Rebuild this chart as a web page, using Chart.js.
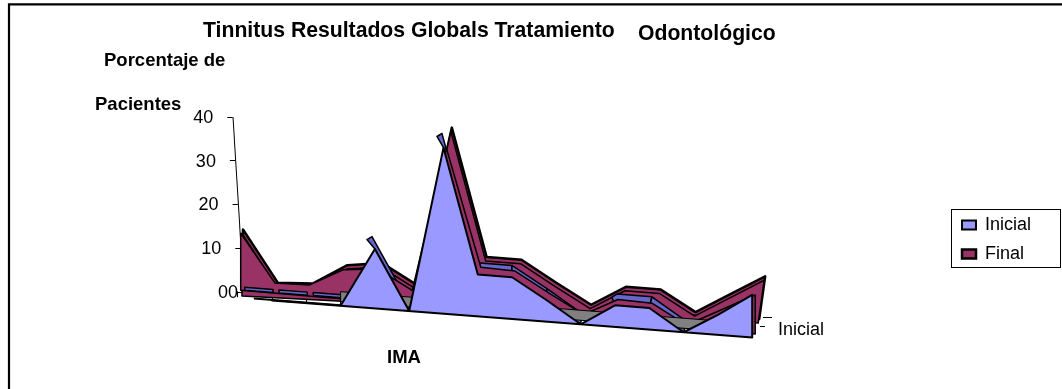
<!DOCTYPE html>
<html>
<head>
<meta charset="utf-8">
<title>Tinnitus Resultados Globals Tratamiento Odontológico</title>
<style>
  html, body { margin: 0; padding: 0; background: #fff; }
  canvas { display: block; }
</style>
<script src="https://cdn.jsdelivr.net/npm/chart.js@4"></script>
</head>
<body>
<canvas id="chart" width="1062" height="389"></canvas>
<script>
// Categories along the IMA axis
const categories = ['1','2','3','4','5','6','7','8','9','10','11','12','13','14','15','16'];
// Percentage of patients per category
const inicial = [null, 0, 0, 0, 11.8, 0, 33, 8.3, 8.3, 4.3, 0, 4.3, 4.3, 0, 4, 8.5];
const final_  = [13, 2.3, 2.5, 6.7, 7.5, 3.3, 36.4, 9.9, 9.7, 5.3, 1.1, 5.2, 5, 0.7, 4.8, 8.9];
// Floor levels: the grey floor band and the resting strips at the far left
const floorLevel = [null, null, null, 0, 0, 0, 0, 0, 0, 0, 0, 0, 0, 0, 0, 0];
const restLevel = [0, 0, 0, 0, null, null, null, null, null, null, null, null, null, null, null, null];
const yTicks = [0, 10, 20, 30, 40];

const INK = '#000000';
const BLUE = '#9999FF';
const BLUE_TOP = '#6666CC';
const WINE = '#993366';
const GREY = '#808080';
const FONT = '"Liberation Sans", Arial, sans-serif';

// Oblique planes of the 3-D view: a and e stretch and shift x, the floor line
// runs through (ax, ay) with the given slope, and s scales heights. tuck pulls
// the lower right corner of an area inwards, towards the vanishing point.
const planes = {
  inicialFront: { a: 1,     e: 0,     slope: .0774, ax: 254, ay: 299, s: 1.15 },
  inicialBack:  { a: 1.02,  e: -10.4, slope: .078,  ax: 270, ay: 289, s: 1.17 },
  finalFront:   { a: 1,     e: 3,     slope: .085,  ax: 250, ay: 291, s: 1 },
  finalMid:     { a: 1.015, e: .7,    slope: .052,  ax: 244, ay: 296, s: 1.1, tuck: 6 },
  finalBack:    { a: 1.015, e: 1.7,   slope: .052,  ax: 244, ay: 292, s: 1.1, tuck: 6 },
  floorFront:   { a: 1,     e: 0,     slope: .0774, ax: 254, ay: 295, s: 1 },
  floorBack:    { a: 1,     e: 0,     slope: .0774, ax: 254, ay: 285, s: 1 },
  restFront:    { a: 1,     e: 4,     slope: .0774, ax: 254, ay: 291, s: 1 },
  restBack:     { a: 1,     e: 4,     slope: .0774, ax: 254, ay: 288, s: 1 }
};

function project(plane, x, y, zeroY) {
  const sx = plane.a * x + plane.e;
  const floorY = plane.ay + plane.slope * (sx - plane.ax);
  return [sx, floorY + plane.s * (y - zeroY)];
}

function tracePolygon(ctx, corners) {
  ctx.beginPath();
  corners.forEach((c, i) => i ? ctx.lineTo(c[0], c[1]) : ctx.moveTo(c[0], c[1]));
  ctx.closePath();
  ctx.fill();
  ctx.stroke();
}

// Area controller that projects the points laid out by the scales onto a plane.
class RibbonController extends Chart.LineController {
  draw() {
    const ds = this.getDataset();
    const meta = this.getMeta();
    const ctx = this.chart.ctx;
    const zeroY = meta.yScale.getPixelForValue(0);
    const pts = meta.data.filter(p => !p.skip);
    const on = (plane, p, y) => project(plane, p.x, y === undefined ? p.y : y, zeroY);

    ctx.save();
    ctx.fillStyle = ds.backgroundColor;
    ctx.strokeStyle = ds.borderColor;
    ctx.lineWidth = ds.borderWidth;
    ctx.lineJoin = 'round';

    const first = pts[0], last = pts[pts.length - 1];
    if (ds.mode === 'top') {
      // Upper surface of the ribbon, only where it faces the viewer
      for (let i = 0; i < pts.length - 1; i++) {
        const p = pts[i], q = pts[i + 1];
        if (q.y < p.y || (p.y === zeroY && q.y === zeroY)) continue;
        const corners = [on(ds.back, p), on(ds.back, q), on(ds.plane, q), on(ds.plane, p)];
        // A peak shows a short flat cap on its far side
        if (i > 0 && pts[i - 1].y > p.y) {
          const tip = corners[0];
          corners.unshift([tip[0] - 5, tip[1] + 3]);
        }
        tracePolygon(ctx, corners);
      }
    } else if (ds.mode === 'rest') {
      // Separate thin strips, one per category step
      const gap = 3;
      for (let i = 0; i < pts.length - 1; i++) {
        const p = { x: pts[i].x + gap, y: pts[i].y }, q = { x: pts[i + 1].x - gap, y: pts[i + 1].y };
        tracePolygon(ctx, [on(ds.back, p), on(ds.back, q), on(ds.plane, q), on(ds.plane, p)]);
      }
    } else if (ds.mode === 'floor') {
      tracePolygon(ctx, [on(ds.back, first), on(ds.back, last), on(ds.plane, last), on(ds.plane, first)]);
    } else {
      const end = on(ds.plane, last, zeroY);
      end[0] -= ds.plane.tuck || 0;
      tracePolygon(ctx, pts.map(p => on(ds.plane, p)).concat([end, on(ds.plane, first, zeroY)]));
    }
    ctx.restore();
  }
}
RibbonController.id = 'ribbon';
RibbonController.defaults = Chart.LineController.defaults;
Chart.register(RibbonController);

// Scales whose ticks and axis line are sheared to follow the oblique view.
const AXIS_SHEAR = .0618;
const AXIS_SHIFT = 6.3;
const FLOOR_SLOPE = .0774;

class SlantedLinear extends Chart.LinearScale {
  draw(area) {
    const ctx = this.ctx;
    const zeroY = this.getPixelForValue(0);
    ctx.save();
    ctx.transform(1, 0, AXIS_SHEAR, 1, AXIS_SHIFT - AXIS_SHEAR * zeroY, 0);
    this.drawGrid(area);
    this.drawBorder();
    ctx.restore();
    this.drawLabels(area);
  }
  _computeLabelItems(area) {
    const zeroY = this.getPixelForValue(0);
    const items = super._computeLabelItems(area);
    items.forEach(item => {
      const t = item.options.translation;
      const extra = item.label === '00' ? 14 : 0;
      item.options.translation = [t[0] + AXIS_SHIFT + AXIS_SHEAR * (t[1] - zeroY) + extra, t[1] + 1];
    });
    return items;
  }
}
SlantedLinear.id = 'slantedLinear';
SlantedLinear.defaults = Chart.LinearScale.defaults;

class SlantedCategory extends Chart.CategoryScale {
  draw(area) {
    const ctx = this.ctx;
    ctx.save();
    ctx.transform(1, FLOOR_SLOPE, 0, 1, 0, 2 - FLOOR_SLOPE * 273);
    this.drawGrid(area);
    // Front edge of the floor, up to where the first area takes over
    const edge = this.top + 6;
    ctx.strokeStyle = INK;
    ctx.lineWidth = 2;
    ctx.beginPath();
    ctx.moveTo(this.getPixelForValue(0.47), edge);
    ctx.lineTo(this.getPixelForValue(3), edge);
    ctx.stroke();
    ctx.restore();
  }
}
SlantedCategory.id = 'slantedCategory';
SlantedCategory.defaults = Chart.CategoryScale.defaults;
Chart.register(SlantedLinear, SlantedCategory);

// Headings, axis captions and the depth axis, which have no native slot.
const captions = [
  { text: 'Tinnitus Resultados Globals Tratamiento', x: 203, y: 31, size: 21.2, bold: true },
  { text: 'Odontológico', x: 638, y: 34, size: 21.2, bold: true },
  { text: 'Porcentaje de', x: 104, y: 61, size: 18.5, bold: true },
  { text: 'Pacientes', x: 95, y: 105, size: 18.5, bold: true },
  { text: 'IMA', x: 387, y: 358, size: 18.5, bold: true },
  { text: 'Inicial', x: 778, y: 330, size: 18, bold: false }
];

const decorations = {
  id: 'decorations',
  beforeLayout(chart) {
    // The legend sits in its own framed box and takes no room from the plot.
    const legend = chart.legend;
    if (legend && !legend.$floating) {
      const fit = legend.fit;
      legend.fit = function () { fit.call(this); this.width = 0; };
      legend.$floating = true;
    }
  },
  beforeDraw(chart) {
    const ctx = chart.ctx;
    const legend = chart.legend;
    legend.left = 951; legend.right = 1061; legend.top = 132; legend.bottom = 347;

    ctx.save();
    ctx.strokeStyle = INK;
    ctx.lineWidth = 2.2;
    ctx.beginPath();
    ctx.moveTo(9, 389);
    ctx.lineTo(9, 4.4);
    ctx.lineTo(1062, 4.4);
    ctx.stroke();
    ctx.lineWidth = 1;
    ctx.strokeRect(951.5, 209.5, 109, 58);
    ctx.beginPath();
    ctx.moveTo(763, 317.5); ctx.lineTo(772, 317.5);
    ctx.moveTo(760, 326.5); ctx.lineTo(765, 326.5);
    ctx.stroke();
    ctx.restore();
  },
  afterDraw(chart) {
    const ctx = chart.ctx;
    ctx.save();
    ctx.fillStyle = INK;
    ctx.textBaseline = 'middle';
    captions.forEach(c => {
      ctx.font = (c.bold ? 'bold ' : '') + c.size + 'px ' + FONT;
      ctx.fillText(c.text, c.x, c.y);
    });
    ctx.restore();
  }
};

const common = { type: 'ribbon', borderColor: INK, borderWidth: 2, pointRadius: 0, clip: false };

new Chart(document.getElementById('chart'), {
  type: 'line',
  data: {
    labels: categories,
    // Index 0 is painted last, so it lies in front of the others.
    datasets: [
      { ...common, label: 'Inicial', data: inicial, backgroundColor: BLUE, plane: planes.inicialFront },
      { ...common, label: 'Suelo', data: floorLevel, mode: 'floor', backgroundColor: GREY, borderWidth: 1,
        plane: planes.floorFront, back: planes.floorBack },
      { ...common, label: 'Inicial, reposo', data: restLevel, mode: 'rest', backgroundColor: BLUE_TOP, borderWidth: 1.5,
        plane: planes.restFront, back: planes.restBack },
      { ...common, label: 'Final, cara', data: final_, backgroundColor: WINE, borderWidth: 1.5, plane: planes.finalFront },
      { ...common, label: 'Inicial, borde', data: inicial, mode: 'top', backgroundColor: BLUE_TOP, borderWidth: 1.5,
        plane: planes.inicialFront, back: planes.inicialBack },
      { ...common, label: 'Final, borde', data: final_, backgroundColor: WINE, borderWidth: 1.5, plane: planes.finalMid },
      { ...common, label: 'Final', data: final_, backgroundColor: WINE, borderWidth: 2.5, plane: planes.finalBack }
    ]
  },
  options: {
    responsive: false,
    animation: false,
    events: [],
    layout: { padding: { top: 117, right: 309.8, left: 0, bottom: 0 } },
    scales: {
      x: {
        type: 'slantedCategory',
        afterFit(scale) { scale.height = 97; },
        grid: { drawOnChartArea: false, color: INK, tickLength: 6 },
        border: { display: false },
        ticks: { display: false, autoSkip: false }
      },
      y: {
        type: 'slantedLinear',
        min: 0,
        max: 40,
        afterFit(scale) { scale.width = 237.7; },
        afterBuildTicks(scale) { scale.ticks = yTicks.map(value => ({ value })); },
        grid: { drawOnChartArea: false, color: INK, tickLength: 6 },
        border: { display: true, color: INK, width: 1 },
        ticks: {
          padding: 14,
          color: INK,
          font: { family: FONT, size: 18 },
          callback: v => (v === 0 ? '00' : String(v))
        }
      }
    },
    plugins: {
      title: { display: false },
      tooltip: { enabled: false },
      legend: {
        display: true,
        position: 'right',
        labels: {
          filter: item => item.text === 'Inicial' || item.text === 'Final',
          color: INK,
          font: { family: FONT, size: 18 },
          boxWidth: 14,
          boxHeight: 9,
          padding: 11
        }
      }
    }
  },
  plugins: [decorations]
});
</script>
</body>
</html>
